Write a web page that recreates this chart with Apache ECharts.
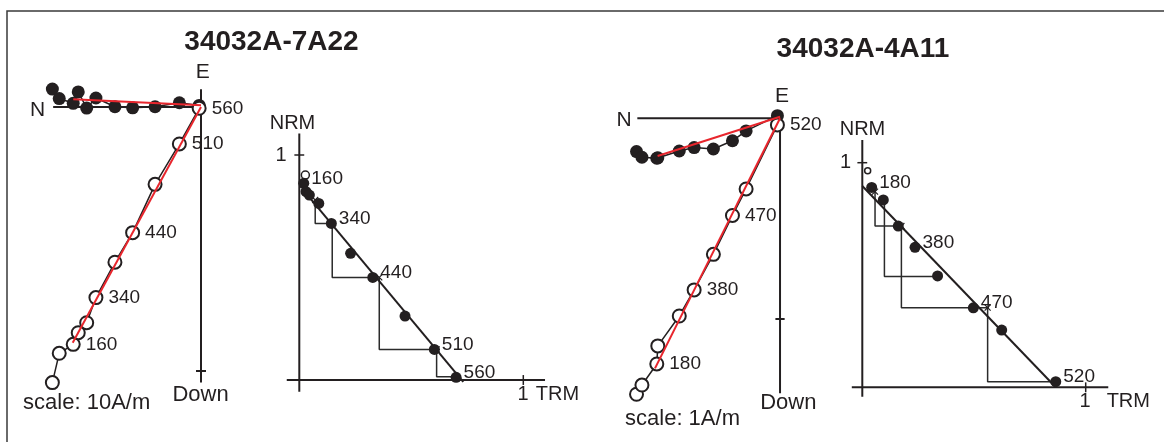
<!DOCTYPE html>
<html>
<head>
<meta charset="utf-8">
<script src="https://cdn.jsdelivr.net/npm/echarts@6/dist/echarts.min.js"></script>
<style>
  html, body { margin: 0; padding: 0; background: #ffffff; }
  #chart { width: 1164px; height: 442px; }
</style>
</head>
<body>
<div id="chart"></div>
<script>
// ---------- Sample 34032A-7A22 : orthogonal demagnetisation (A/m) ----------
const zijA_north = [5.63, 5.37, 4.84, 4.65, 4.33, 3.98, 3.26, 2.59, 1.74, 0.82, 0.07];
const zijA_east  = [0.68, 0.32, 0.14, 0.57, -0.04, 0.34, 0.01, -0.03, 0.01, 0.16, 0.06];
const zijA_down  = [10.44, 9.33, 8.99, 8.55, 8.17, 7.22, 5.88, 4.76, 2.93, 1.40, 0.05];
const zijA_steps = ['', '', '160', '', '', '340', '', '440', '', '510', '560'];
const zijA_fitHoriz = [[4.84, 0.29], [0, 0.07]];   // [N, E]
const zijA_fitVert  = [[4.86, 8.93], [0, 0]];      // [N, Down]
const zijA_axis = { north: 5.6, east: 0.67, down: 10.44, scaleTick: 10 };

// ---------- Sample 34032A-7A22 : Arai plot (normalised) ----------
const araiA_nrmStart = [[0.027, 0.911]];
const araiA_trm = [0.020, 0.030, 0.045, 0.087, 0.143, 0.229, 0.328, 0.472, 0.603, 0.700];
const araiA_nrm = [0.874, 0.837, 0.822, 0.785, 0.696, 0.563, 0.456, 0.284, 0.136, 0.012];
const araiA_steps = ['160', '', '', '', '340', '', '440', '', '510', '560'];
const araiA_fit = [[0.018, 0.844], [0.732, -0.008]];
const araiA_chkTrm  = [0.071, 0.147, 0.357, 0.613];
const araiA_chkTop  = [0.800, 0.696, 0.456, 0.136];
const araiA_chkBase = [0.696, 0.456, 0.136, 0.015];
const araiA_chkEnd  = [0.150, 0.353, 0.628, 0.700];
const araiA_axis = { xMin: -0.056, xMax: 1.097, yMin: -0.052, yMax: 1.096 };

// ---------- Sample 34032A-4A11 : orthogonal demagnetisation (A/m) ----------
const zijB_north = [0.715, 0.688, 0.614, 0.609, 0.502, 0.428, 0.332, 0.237, 0.169, 0.013];
const zijB_east  = [-0.166, -0.194, -0.199, -0.197, -0.163, -0.146, -0.153, -0.112, -0.063, 0.013];
const zijB_down  = [1.375, 1.329, 1.224, 1.134, 0.985, 0.855, 0.678, 0.484, 0.352, 0.033];
const zijB_steps = ['', '', '180', '', '', '380', '', '470', '', '520'];
const zijB_fitHoriz = [[0.610, -0.188], [0, 0.008]];
const zijB_fitVert  = [[0.623, 1.246], [0, 0]];
const zijB_axis = { north: 0.711, east: 0.03, down: 1.37, scaleTick: 1 };

// ---------- Sample 34032A-4A11 : Arai plot (normalised) ----------
const araiB_nrmStart = [[0.024, 0.964]];
const araiB_trm = [0.042, 0.094, 0.161, 0.236, 0.337, 0.497, 0.624, 0.866];
const araiB_nrm = [0.890, 0.834, 0.718, 0.623, 0.496, 0.354, 0.255, 0.025];
const araiB_steps = ['180', '', '', '380', '', '470', '', '520'];
const araiB_fit = [[0, 0.896], [0.866, 0]];
const araiB_chkTrm  = [0.057, 0.099, 0.175, 0.561];
const araiB_chkTop  = [0.871, 0.834, 0.718, 0.355];
const araiB_chkBase = [0.718, 0.493, 0.354, 0.025];
const araiB_chkEnd  = [0.161, 0.338, 0.561, 0.866];
const araiB_axis = { xMin: -0.047, xMax: 1.101, yMin: -0.042, yMax: 1.101 };

const FONT = '"Liberation Sans", Arial, Helvetica, sans-serif';
const INK = '#231f20';
const RED = '#e8262d';

const series = [];

function seg(idx, pts, width, color, z) {
  series.push({
    type: 'line', xAxisIndex: idx, yAxisIndex: idx, data: pts,
    symbol: 'none', clip: false, silent: true, z: z || 2,
    lineStyle: { color: color || INK, width: width || 2, opacity: 1 }
  });
}

// Orthogonal (Zijderveld) projection: N to the left, E up / Down down
function zijderveld(idx, north, east, down, steps, fitH, fitV, ax, tickHalf) {
  // axes
  seg(idx, [[ax.north, 0], [0, 0]], 2);
  seg(idx, [[0, -ax.east], [0, ax.down]], 2);
  seg(idx, [[tickHalf, ax.scaleTick], [-tickHalf, ax.scaleTick]], 2);
  // horizontal plane (solid)
  series.push({
    type: 'line', xAxisIndex: idx, yAxisIndex: idx, clip: false, z: 3,
    data: north.map((n, i) => [n, -east[i]]),
    symbol: 'circle', symbolSize: 13,
    lineStyle: { color: INK, width: 1.5 },
    itemStyle: { color: INK, borderWidth: 0, opacity: 1 }
  });
  // vertical plane (open)
  series.push({
    type: 'line', xAxisIndex: idx, yAxisIndex: idx, clip: false, z: 4,
    data: north.map((n, i) => [n, down[i]]),
    symbol: 'circle', symbolSize: 13,
    lineStyle: { color: INK, width: 1.5 },
    itemStyle: { color: '#ffffff', borderColor: INK, borderWidth: 2, opacity: 1 },
    label: {
      show: true, position: 'right', distance: 5,
      formatter: p => steps[p.dataIndex],
      fontFamily: FONT, fontSize: 19, color: INK
    }
  });
  // principal component fits
  seg(idx, fitH.map(p => [p[0], -p[1]]), 2, RED, 6);
  seg(idx, fitV.map(p => [p[0], p[1]]), 2, RED, 6);
}

// Arai plot: NRM remaining vs TRM gained
function arai(idx, start, trm, nrm, steps, fit, cT, cTop, cBase, cEnd, ax, openSize) {
  seg(idx, [[ax.xMin, 0], [ax.xMax, 0]], 2);
  seg(idx, [[0, ax.yMin], [0, ax.yMax]], 2);
  seg(idx, [[1, -0.022], [1, 0.022]], 1.5);
  seg(idx, [[-0.022, 1], [0.022, 1]], 1.5);
  // pTRM check triangles
  cT.forEach((x, i) => {
    seg(idx, [[x, cTop[i]], [x, cBase[i]], [cEnd[i], cBase[i]]], 1.5, '#2b2b2b', 3);
  });
  series.push({
    type: 'scatter', xAxisIndex: idx, yAxisIndex: idx, z: 4, clip: false,
    data: cT.map((x, i) => [x, cTop[i]]),
    symbol: 'path://M0,0L10,10M10,0L0,10', symbolSize: 6,
    itemStyle: { color: 'transparent', borderColor: INK, borderWidth: 1.2, opacity: 1 }
  });
  // best-fit line
  seg(idx, fit, 2, INK, 5);
  // NRM starting point
  series.push({
    type: 'scatter', xAxisIndex: idx, yAxisIndex: idx, z: 6, clip: false,
    data: start, symbol: 'circle', symbolSize: openSize,
    itemStyle: { color: '#ffffff', borderColor: INK, borderWidth: 1.5, opacity: 1 }
  });
  // NRM/TRM steps
  series.push({
    type: 'scatter', xAxisIndex: idx, yAxisIndex: idx, z: 6, clip: false,
    data: trm.map((t, i) => [t, nrm[i]]),
    symbol: 'circle', symbolSize: 11,
    itemStyle: { color: INK, opacity: 1 },
    label: {
      show: true, position: 'right', distance: 2, offset: [0, -5],
      formatter: p => steps[p.dataIndex],
      fontFamily: FONT, fontSize: 19, color: INK
    }
  });
}

zijderveld(0, zijA_north, zijA_east, zijA_down, zijA_steps, zijA_fitHoriz, zijA_fitVert, zijA_axis, 0.19);
arai(1, araiA_nrmStart, araiA_trm, araiA_nrm, araiA_steps, araiA_fit,
     araiA_chkTrm, araiA_chkTop, araiA_chkBase, araiA_chkEnd, araiA_axis, 8);
zijderveld(2, zijB_north, zijB_east, zijB_down, zijB_steps, zijB_fitHoriz, zijB_fitVert, zijB_axis, 0.023);
arai(3, araiB_nrmStart, araiB_trm, araiB_nrm, araiB_steps, araiB_fit,
     araiB_chkTrm, araiB_chkTop, araiB_chkBase, araiB_chkEnd, araiB_axis, 6);

const hidden = { type: 'value', show: false, scale: false };

function txt(x, y, text, size, weight, align) {
  return {
    type: 'text', x: x, y: y, z: 10, silent: true,
    style: {
      text: text, fill: INK,
      font: (weight || 'normal') + ' ' + size + 'px ' + FONT,
      align: align || 'center', verticalAlign: 'middle'
    }
  };
}

const option = {
  animation: false,
  backgroundColor: '#ffffff',
  grid: [
    { left: 29.4,  top: 80.6,  width: 184.8,  height: 316.8 },
    { left: 276.9, top: 110,   width: 291.2,  height: 292.5 },
    { left: 629.5, top: 98.23, width: 160.56, height: 301.05 },
    { left: 839.96, top: 117.78, width: 290.42, height: 291.98 }
  ],
  xAxis: [
    Object.assign({ gridIndex: 0, min: -0.5, max: 6.5, inverse: true }, hidden),
    Object.assign({ gridIndex: 1, min: -0.1, max: 1.2 }, hidden),
    Object.assign({ gridIndex: 2, min: -0.05, max: 0.75, inverse: true }, hidden),
    Object.assign({ gridIndex: 3, min: -0.1, max: 1.2 }, hidden)
  ],
  yAxis: [
    Object.assign({ gridIndex: 0, min: -1, max: 11, inverse: true }, hidden),
    Object.assign({ gridIndex: 1, min: -0.1, max: 1.2 }, hidden),
    Object.assign({ gridIndex: 2, min: -0.1, max: 1.4, inverse: true }, hidden),
    Object.assign({ gridIndex: 3, min: -0.1, max: 1.2 }, hidden)
  ],
  graphic: [
    {
      type: 'rect', silent: true, z: 0,
      shape: { x: 7, y: 11, width: 1180, height: 450 },
      style: { fill: 'none', stroke: '#3a3a3a', lineWidth: 1.5 }
    },
    txt(271.5, 42.5, '34032A-7A22', 28, 'bold'),
    txt(863, 49.7, '34032A-4A11', 28, 'bold'),
    // 7A22 orthogonal plot
    txt(37.5, 110, 'N', 21),
    txt(202.7, 72.5, 'E', 21),
    txt(200.5, 395, 'Down', 22),
    txt(86.7, 403, 'scale: 10A/m', 22),
    // 7A22 Arai plot
    txt(292.5, 123.3, 'NRM', 20),
    txt(281, 155, '1', 20),
    txt(523, 394, '1', 20),
    txt(557.5, 394, 'TRM', 20),
    // 4A11 orthogonal plot
    txt(624.2, 120, 'N', 21),
    txt(782, 96.7, 'E', 21),
    txt(788.3, 402.5, 'Down', 22),
    txt(682.5, 419, 'scale: 1A/m', 22),
    // 4A11 Arai plot
    txt(862.5, 129, 'NRM', 20),
    txt(845.5, 162.5, '1', 20),
    txt(1085, 401.7, '1', 20),
    txt(1128.3, 401.7, 'TRM', 20)
  ],
  series: series
};

const chart = echarts.init(document.getElementById('chart'), null, { renderer: 'canvas' });
chart.setOption(option);
</script>
</body>
</html>
